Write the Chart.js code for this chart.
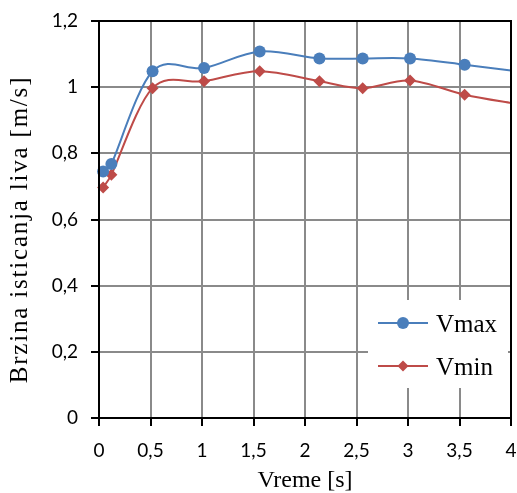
<!DOCTYPE html>
<html>
<head>
<meta charset="utf-8">
<script src="https://cdn.jsdelivr.net/npm/chart.js@4"></script>
<style>
html,body{margin:0;padding:0;background:#fff;}
#wrap{width:517px;height:493px;position:relative;}
</style>
</head>
<body>
<div id="wrap"><canvas id="c" width="517" height="493"></canvas></div>
<script>
const timeX = [0.04, 0.12, 0.52, 1.02, 1.56, 2.14, 2.56, 3.02, 3.55, 4.0];
const vmax = [0.745, 0.768, 1.048, 1.058, 1.108, 1.087, 1.087, 1.087, 1.068, 1.05];
const vmin = [0.697, 0.735, 0.997, 1.018, 1.048, 1.018, 0.997, 1.02, 0.977, 0.952];
const markerShown = [1, 1, 1, 1, 1, 1, 1, 1, 1, 0];
const seriesNames = ['Vmax', 'Vmin'];
const xTicks = [0, 0.5, 1, 1.5, 2, 2.5, 3, 3.5, 4];
const yTicks = [0, 0.2, 0.4, 0.6, 0.8, 1, 1.2];
const xTitle = 'Vreme [s]';
const yTitle = 'Brzina isticanja liva [m/s]';

const fmt = v => String(Math.round(v * 10) / 10).replace('.', ',');
const toPts = arr => arr.map((y, i) => ({x: timeX[i], y}));

// Excel-style smoothing: control points at 1/6 of neighbour difference
const excelSmooth = {
  id: 'excelSmooth',
  beforeDatasetDraw(chart, args) {
    const meta = args.meta;
    const line = meta.dataset;
    if (!line) return;
    line.updateControlPoints(chart.chartArea, meta.indexAxis);
    const pts = meta.data;
    const n = pts.length;
    for (let i = 0; i < n; i++) {
      const p = pts[i];
      const prev = pts[Math.max(0, i - 1)];
      const next = pts[Math.min(n - 1, i + 1)];
      let tx = (next.x - prev.x) / 6, ty = (next.y - prev.y) / 6;
      const tl = Math.hypot(tx, ty) || 1;
      const dPrev = Math.hypot(p.x - prev.x, p.y - prev.y);
      const dNext = Math.hypot(next.x - p.x, next.y - p.y);
      const sPrev = Math.min(1, 0.45 * dPrev / tl);
      const sNext = Math.min(1, 0.45 * dNext / tl);
      p.cp1x = p.x - tx * sPrev; p.cp1y = p.y - ty * sPrev;
      p.cp2x = p.x + tx * sNext; p.cp2y = p.y + ty * sNext;
    }
    line._path = undefined;
  }
};

const frame = {
  id: 'frame',
  afterDatasetsDraw(chart) {
    const {ctx, chartArea: a} = chart;
    ctx.save();
    ctx.strokeStyle = '#000';
    ctx.lineWidth = 2;
    ctx.strokeRect(a.left, a.top, a.right - a.left, a.bottom - a.top);
    ctx.restore();
  },
  afterDraw(chart) {
    const ctx = chart.ctx;
    ctx.save();
    const bx = 368, by = 300, bw = 140, bh = 88;
    ctx.fillStyle = '#fff';
    ctx.fillRect(bx, by, bw, bh);
    const rows = [323, 366];
    chart.data.datasets.forEach((ds, i) => {
      const y = rows[i];
      ctx.strokeStyle = ds.borderColor;
      ctx.lineWidth = 2;
      ctx.beginPath();
      ctx.moveTo(378, y);
      ctx.lineTo(428, y);
      ctx.stroke();
      ctx.fillStyle = ds.backgroundColor;
      ctx.beginPath();
      if (ds.pointStyle === 'circle') {
        ctx.arc(403, y, 6, 0, Math.PI * 2);
      } else {
        const r = 5.5;
        ctx.moveTo(403, y - r); ctx.lineTo(403 + r, y); ctx.lineTo(403, y + r); ctx.lineTo(403 - r, y);
        ctx.closePath();
      }
      ctx.fill();
      ctx.fillStyle = '#000';
      ctx.font = '25px "Liberation Serif"';
      ctx.textBaseline = 'alphabetic';
      ctx.textAlign = 'left';
      ctx.fillText(ds.label, 436, y + 9);
    });
    ctx.restore();
  }
};

function spacedTitle(scale, spacing, shiftY) {
  if (scale._spacedPatched) return;
  const orig = scale.drawTitle;
  scale.drawTitle = function () {
    const ctx = this.ctx;
    ctx.save();
    ctx.letterSpacing = spacing;
    ctx.translate(0, shiftY);
    orig.apply(this, arguments);
    ctx.restore();
  };
  scale._spacedPatched = true;
}

new Chart(document.getElementById('c'), {
  type: 'line',
  data: {
    datasets: [
      {
        label: seriesNames[0],
        data: toPts(vmax),
        borderColor: '#4a7ebb',
        backgroundColor: '#4a7ebb',
        borderWidth: 2,
        pointStyle: 'circle',
        pointRadius: markerShown.map(m => m ? 6 : 0),
        pointBorderWidth: 0,
        tension: 0.4,
        capBezierPoints: false,
        clip: {left: 10, top: 10, right: 0, bottom: 10}
      },
      {
        label: seriesNames[1],
        data: toPts(vmin),
        borderColor: '#be4b48',
        backgroundColor: '#be4b48',
        borderWidth: 2,
        pointStyle: 'rectRot',
        pointRadius: markerShown.map(m => m ? 6 : 0),
        pointBorderWidth: 0,
        tension: 0.4,
        capBezierPoints: false,
        clip: {left: 10, top: 10, right: 0, bottom: 10}
      }
    ]
  },
  options: {
    responsive: false,
    animation: false,
    devicePixelRatio: 1,
    layout: {padding: {top: 21, right: 5, left: 0, bottom: 0}},
    plugins: {legend: {display: false}, tooltip: {enabled: false}},
    scales: {
      x: {
        type: 'linear',
        min: 0, max: 4,
        afterBuildTicks: s => { s.ticks = xTicks.map(v => ({value: v})); },
        afterFit: s => { s.height = 75; s.paddingLeft = 0; s.paddingRight = 0; },
        grid: {color: '#8a8a8a', lineWidth: 2, tickColor: '#000', tickLength: 8, drawTicks: true},
        border: {display: true, color: '#000', width: 2},
        ticks: {
          color: '#000', padding: 13,
          font: {family: 'Lato', size: 19},
          maxRotation: 0, autoSkip: false,
          callback: v => fmt(v)
        },
        title: {
          display: true, text: xTitle, color: '#000',
          font: {family: 'Liberation Serif', size: 24},
          padding: {top: 0, bottom: -2}
        }
      },
      y: {
        type: 'linear',
        min: 0, max: 1.2,
        afterBuildTicks: s => { s.ticks = yTicks.map(v => ({value: v})); },
        afterFit: s => { s.width = 99; s.paddingTop = 0; s.paddingBottom = 0; spacedTitle(s, '1.8px', 10); },
        grid: {color: '#8a8a8a', lineWidth: 2, tickColor: '#000', tickLength: 8},
        border: {display: true, color: '#000', width: 2},
        ticks: {
          color: '#000', padding: 13,
          font: {family: 'Lato', size: 19},
          callback: v => fmt(v)
        },
        title: {
          display: true, text: yTitle, color: '#000',
          font: {family: 'Liberation Serif', size: 25},
          padding: {top: 5, bottom: 0}
        }
      }
    }
  },
  plugins: [excelSmooth, frame]
});
</script>
</body>
</html>
